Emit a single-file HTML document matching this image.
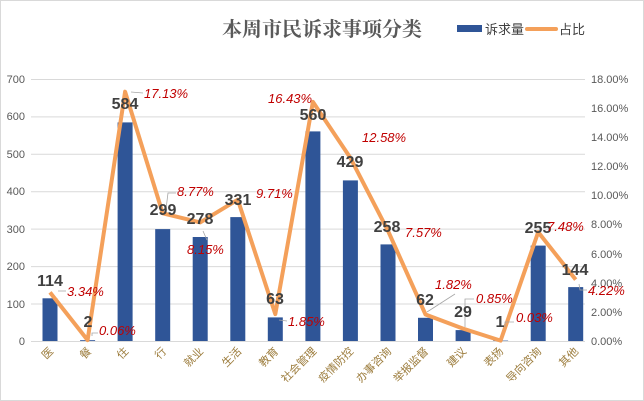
<!DOCTYPE html>
<html><head><meta charset="utf-8"><style>
html,body{margin:0;padding:0;background:#fff}
svg{display:block}
</style></head><body>
<svg width="644" height="401" xmlns="http://www.w3.org/2000/svg" font-family="Liberation Sans, Noto Sans CJK SC, sans-serif">
<rect x="0.5" y="0.5" width="643" height="400" fill="#fff" stroke="#d9d9d9"/>
<text x="322" y="36" text-anchor="middle" font-family="Noto Serif CJK SC, serif" font-size="20" fill="#595959" font-weight="bold">本周市民诉求事项分类</text>
<rect x="457" y="25" width="25" height="7" fill="#2f5597"/>
<text x="485" y="34" font-size="13" fill="#404040" font-family="Noto Sans CJK SC, sans-serif">诉求量</text>
<line x1="527" y1="29" x2="556" y2="29" stroke="#f4a05a" stroke-width="4" stroke-linecap="round"/>
<text x="559" y="34" font-size="13" fill="#404040" font-family="Noto Sans CJK SC, sans-serif">占比</text>
<g stroke="#d9d9d9" stroke-width="1">
<line x1="31" y1="79.5" x2="585" y2="79.5"/><line x1="31" y1="116.9" x2="585" y2="116.9"/><line x1="31" y1="154.3" x2="585" y2="154.3"/><line x1="31" y1="191.7" x2="585" y2="191.7"/><line x1="31" y1="229.1" x2="585" y2="229.1"/><line x1="31" y1="266.6" x2="585" y2="266.6"/><line x1="31" y1="304" x2="585" y2="304"/><line x1="31" y1="341.5" x2="585" y2="341.5"/>
</g>
<g font-size="11" fill="#595959" text-anchor="end">
<text x="25" y="83">700</text><text x="25" y="120">600</text><text x="25" y="158">500</text><text x="25" y="195">400</text><text x="25" y="233">300</text><text x="25" y="270">200</text><text x="25" y="308">100</text><text x="25" y="345">0</text>
</g>
<g font-size="11" fill="#595959">
<text x="591" y="83">18.00%</text><text x="591" y="112">16.00%</text><text x="591" y="141">14.00%</text><text x="591" y="170">12.00%</text><text x="591" y="199">10.00%</text><text x="591" y="228">8.00%</text><text x="591" y="258">6.00%</text><text x="591" y="287">4.00%</text><text x="591" y="316">2.00%</text><text x="591" y="345">0.00%</text>
</g>
<g fill="#2f5597">
<rect x="42.5" y="298.3" width="15" height="42.7"/>
<rect x="80.1" y="340.2" width="15" height="0.8"/>
<rect x="117.6" y="122.4" width="15" height="218.6"/>
<rect x="155.2" y="229.1" width="15" height="111.9"/>
<rect x="192.7" y="237" width="15" height="104"/>
<rect x="230.3" y="217.1" width="15" height="123.9"/>
<rect x="267.8" y="317.4" width="15" height="23.6"/>
<rect x="305.4" y="131.4" width="15" height="209.6"/>
<rect x="342.9" y="180.4" width="15" height="160.6"/>
<rect x="380.5" y="244.4" width="15" height="96.6"/>
<rect x="418" y="317.8" width="15" height="23.2"/>
<rect x="455.6" y="330.1" width="15" height="10.9"/>
<rect x="493.1" y="340.6" width="15" height="0.4"/>
<rect x="530.7" y="245.6" width="15" height="95.4"/>
<rect x="568.2" y="287.1" width="15" height="53.9"/>
</g>
<polyline fill="none" stroke="#f4a05a" stroke-width="4" stroke-linejoin="round" points="50,292.4 87.6,340.1 125.1,91.7 162.7,213.3 200.2,222.4 237.8,199.7 275.3,314.1 312.9,101.9 350.4,157.9 388,230.8 425.5,314.5 463.1,328.6 500.6,340.6 538.2,232.1 575.7,279.6"/>
<g stroke="#a6a6a6" stroke-width="0.8" fill="none">
<polyline points="58,291 66,291"/><polyline points="92,336 92,333 98,333"/><polyline points="131,92 143,93"/>
<polyline points="166,209 168,193 176,193"/><polyline points="203,231 207,240"/>
<polyline points="427,312 455,294"/><polyline points="465,327 465,299 474,299"/><polyline points="505,327 505,322 514,322"/><polyline points="579,284 580,290 587,290"/><polyline points="279,320 287,321"/>
</g>
<g font-size="16" font-weight="bold" fill="#404040" text-anchor="middle">
<text x="50" y="286">114</text><text x="88" y="327">2</text><text x="125" y="109">584</text><text x="163" y="215">299</text><text x="200" y="224">278</text><text x="238" y="205">331</text><text x="275" y="304">63</text><text x="313" y="120">560</text><text x="350" y="167">429</text><text x="387" y="232">258</text><text x="425" y="305">62</text><text x="463" y="317">29</text><text x="500" y="327">1</text><text x="538" y="233">255</text><text x="575" y="275">144</text>
</g>
<g font-size="13" font-style="italic" fill="#c00000">
<text x="67" y="296">3.34%</text><text x="99" y="335">0.06%</text><text x="144" y="98">17.13%</text><text x="177" y="196">8.77%</text><text x="187" y="254">8.15%</text><text x="256" y="198">9.71%</text><text x="288" y="326">1.85%</text><text x="268" y="103">16.43%</text><text x="362" y="142">12.58%</text><text x="405" y="237">7.57%</text><text x="435" y="289">1.82%</text><text x="476" y="303">0.85%</text><text x="516" y="322">0.03%</text><text x="547" y="231">7.48%</text><text x="588" y="295">4.22%</text>
</g>
<g font-size="11" fill="#9c7c3c" text-anchor="end" font-family="Noto Sans CJK SC, sans-serif">
<text transform="translate(54,352) rotate(-45)">医</text>
<text transform="translate(92,352) rotate(-45)">餐</text>
<text transform="translate(129,352) rotate(-45)">住</text>
<text transform="translate(167,352) rotate(-45)">行</text>
<text transform="translate(204,352) rotate(-45)">就业</text>
<text transform="translate(242,352) rotate(-45)">生活</text>
<text transform="translate(279,352) rotate(-45)">教育</text>
<text transform="translate(317,352) rotate(-45)">社会管理</text>
<text transform="translate(354,352) rotate(-45)">疫情防控</text>
<text transform="translate(392,352) rotate(-45)">办事咨询</text>
<text transform="translate(429,352) rotate(-45)">举报监督</text>
<text transform="translate(467,352) rotate(-45)">建议</text>
<text transform="translate(504,352) rotate(-45)">表扬</text>
<text transform="translate(542,352) rotate(-45)">导向咨询</text>
<text transform="translate(579,352) rotate(-45)">其他</text>
</g>
</svg>
</body></html>
